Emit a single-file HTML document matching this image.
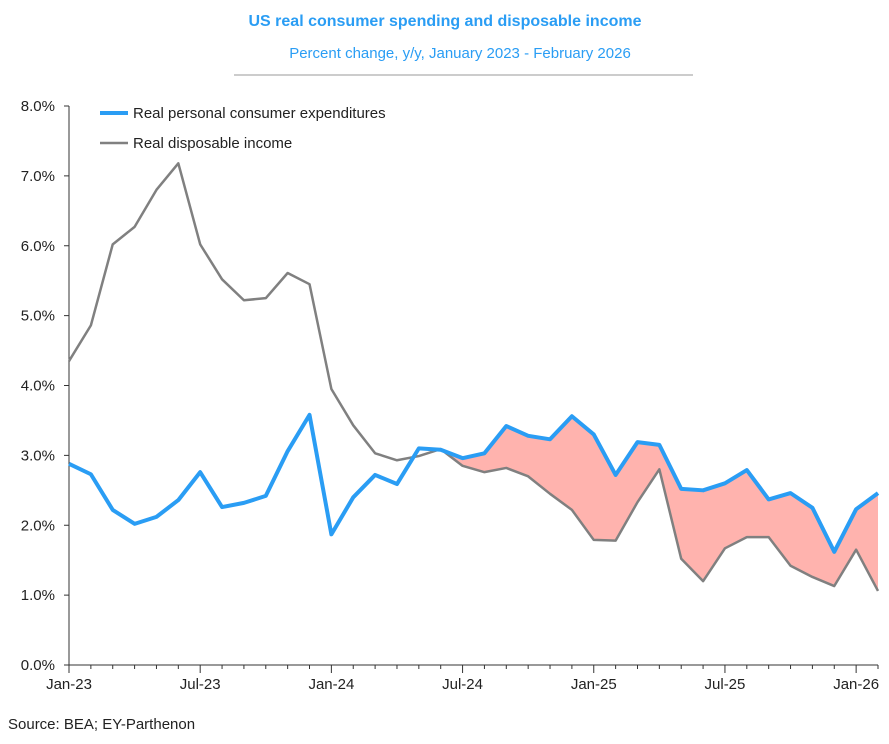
<!DOCTYPE html>
<html><head><meta charset="utf-8"><style>
body{margin:0;background:#fff;font-family:"Liberation Sans",Arial,sans-serif;}
svg text{font-family:"Liberation Sans",Arial,sans-serif;}
</style></head><body>
<svg id="c" width="889" height="739" viewBox="0 0 889 739" xmlns="http://www.w3.org/2000/svg">
<text x="445" y="26" text-anchor="middle" font-size="16" font-weight="bold" fill="#2a9df4">US real consumer spending and disposable income</text>
<text x="460" y="58" text-anchor="middle" font-size="15" fill="#2a9df4">Percent change, y/y, January 2023 - February 2026</text>
<line x1="234" y1="75" x2="693" y2="75" stroke="#999" stroke-width="1"/>
<g id="plot"></g>
<g>
<line x1="100" y1="113" x2="128" y2="113" stroke="#2a9df4" stroke-width="4"/>
<text x="133" y="118" font-size="15" fill="#222">Real personal consumer expenditures</text>
<line x1="100" y1="143" x2="128" y2="143" stroke="#808080" stroke-width="2.5"/>
<text x="133" y="148" font-size="15" fill="#222">Real disposable income</text>
</g>
<text x="8" y="729" font-size="15" fill="#222">Source: BEA; EY-Parthenon</text>
</svg>
<script>
const pce=[2.88,2.73,2.22,2.02,2.12,2.36,2.76,2.26,2.32,2.42,3.06,3.58,1.87,2.40,2.72,2.59,3.10,3.08,2.96,3.03,3.42,3.28,3.23,3.56,3.30,2.72,3.19,3.15,2.52,2.50,2.60,2.79,2.37,2.46,2.25,1.62,2.23,2.46];
const income=[4.35,4.86,6.02,6.27,6.80,7.18,6.02,5.52,5.22,5.25,5.61,5.45,3.95,3.43,3.03,2.93,2.99,3.09,2.85,2.76,2.82,2.70,2.45,2.22,1.79,1.78,2.33,2.80,1.52,1.20,1.67,1.83,1.83,1.42,1.26,1.13,1.65,1.06];
const yTicks=[0,1,2,3,4,5,6,7,8];
const xLabels=["Jan-23","Jul-23","Jan-24","Jul-24","Jan-25","Jul-25","Jan-26"];
const xLabelIdx=[0,6,12,18,24,30,36];
const shadeStart=17;
const NS="http://www.w3.org/2000/svg";
const X0=69,X1=878,Y0=665,Y8=106;
const xs=i=>X0+(X1-X0)*i/(pce.length-1);
const ys=v=>Y0-(Y0-Y8)*v/8;
const g=document.getElementById('plot');
function mk(t,a){const e=document.createElementNS(NS,t);for(const k in a)e.setAttribute(k,a[k]);g.appendChild(e);return e;}
// shade
let pts=[];
for(let i=shadeStart;i<pce.length;i++)pts.push(xs(i)+","+ys(pce[i]));
for(let i=pce.length-1;i>=shadeStart;i--)pts.push(xs(i)+","+ys(income[i]));
const sh=mk('polygon',{points:pts.join(' '),fill:'#ffb3ae',stroke:'none'});


// axes
const ya=mk('line',{x1:X0,y1:Y8,x2:X0,y2:Y0,stroke:'#333','stroke-width':1});


const xa=mk('line',{x1:X0,y1:Y0,x2:X1,y2:Y0,stroke:'#333','stroke-width':1});


yTicks.forEach(v=>{
 const t=mk('line',{x1:X0-5,y1:ys(v),x2:X0,y2:ys(v),stroke:'#333'});
 
 
 const l=mk('text',{x:X0-14,y:ys(v)+5,'text-anchor':'end','font-size':15,fill:'#222'});
 l.textContent=v.toFixed(1)+"%";
 
 
});
for(let i=0;i<pce.length;i++){
 const big=xLabelIdx.includes(i);
 const t=mk('line',{x1:xs(i),y1:Y0,x2:xs(i),y2:Y0+(big?8:4),stroke:'#333'});
 
 
}
xLabels.forEach((s,k)=>{
 const l=mk('text',{x:xs(xLabelIdx[k]),y:Y0+24,'text-anchor':'middle','font-size':15,fill:'#222'});
 l.textContent=s;
 
 
});
const inc=mk('polyline',{points:income.map((v,i)=>xs(i)+","+ys(v)).join(' '),fill:'none',stroke:'#808080','stroke-width':2.5,'stroke-linejoin':'round'});


const p=mk('polyline',{points:pce.map((v,i)=>xs(i)+","+ys(v)).join(' '),fill:'none',stroke:'#2a9df4','stroke-width':4,'stroke-linejoin':'round'});


</script>
</body></html>
